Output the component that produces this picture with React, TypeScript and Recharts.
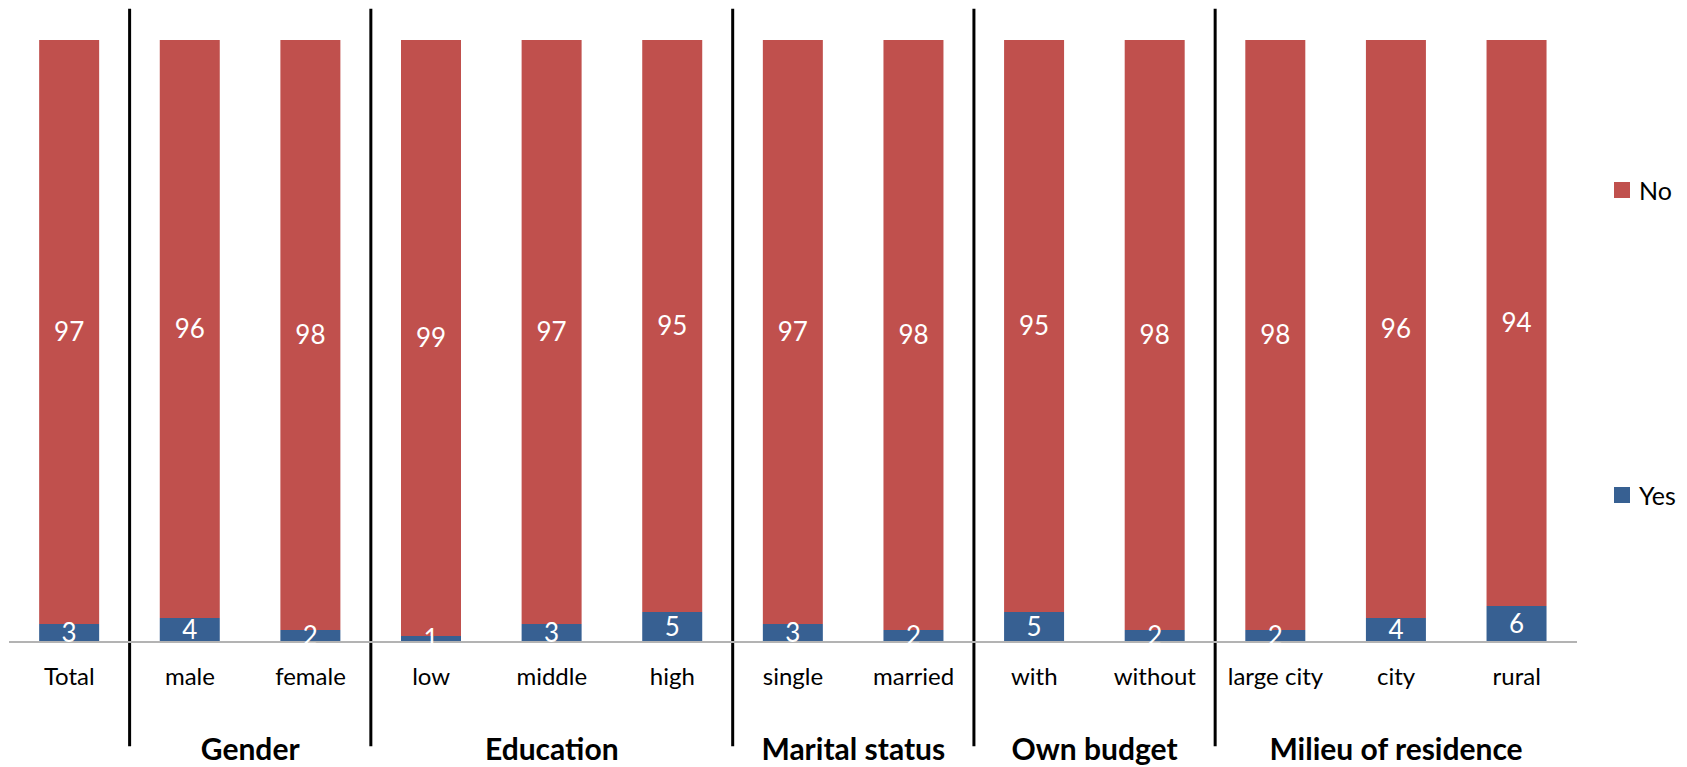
import React from 'react';
import { BarChart, Bar, XAxis, YAxis, LabelList, ReferenceLine, Label } from 'recharts';

const categories = ['Total', 'male', 'female', 'low', 'middle', 'high', 'single', 'married', 'with', 'without', 'large city', 'city', 'rural'];
const yesValues = [3, 4, 2, 1, 3, 5, 3, 2, 5, 2, 2, 4, 6];
const noValues = [97, 96, 98, 99, 97, 95, 97, 98, 95, 98, 98, 96, 94];
const groupNames = ['', 'Gender', 'Education', 'Marital status', 'Own budget', 'Milieu of residence'];
const groupSizes = [1, 2, 3, 2, 2, 3];
const seriesNames = ['Yes', 'No'];
const seriesColors = ['#376092', '#C0504D'];

const data = categories.map((c, i) => ({ category: c, Yes: yesValues[i], No: noValues[i] }));

// group boundaries (first category of each group after the first) and label anchors
const boundaryCats: string[] = [];
const groupAnchors: { name: string; cat: string; position: 'middle' | 'end' }[] = [];
let acc = 0;
groupSizes.forEach((s, i) => {
  if (i > 0) boundaryCats.push(categories[acc]);
  if (groupNames[i]) {
    if (s % 2 === 1) {
      groupAnchors.push({ name: groupNames[i], cat: categories[acc + (s - 1) / 2], position: 'middle' });
    } else {
      groupAnchors.push({ name: groupNames[i], cat: categories[acc + s / 2 - 1], position: 'end' });
    }
  }
  acc += s;
});

const FONT = 'Lato, "Open Sans", sans-serif';
const SEP_BOTTOM = -17.3;
const SEP_TOP = 105.2;
const GROUP_LABEL_Y = -17.8;

export default function App() {
  return (
    <div style={{ position: 'absolute', left: 0, top: 0, width: 1687, height: 767, fontFamily: FONT, background: '#fff' }}>
      <BarChart
        width={1687}
        height={767}
        data={data}
        margin={{ top: 40, right: 110, left: 9, bottom: 0 }}
        barCategoryGap="25%"
      >
        <YAxis hide domain={[0, 100]} type="number" />
        <XAxis
          dataKey="category"
          interval={0}
          tickLine={false}
          axisLine={{ stroke: '#b3b3b3', strokeWidth: 2 }}
          tick={{ fill: '#000', fontSize: 24, fontFamily: FONT }}
          tickMargin={20}
          height={125}
        />
        <Bar dataKey="Yes" stackId="a" fill={seriesColors[0]} isAnimationActive={false}>
          <LabelList dataKey="Yes" position="center" fill="#fff" fontSize={26} fontFamily={FONT} />
        </Bar>
        <Bar dataKey="No" stackId="a" fill={seriesColors[1]} isAnimationActive={false}>
          <LabelList dataKey="No" position="center" fill="#fff" fontSize={26} fontFamily={FONT} />
        </Bar>
        {boundaryCats.map((c) => (
          <ReferenceLine
            key={'sep-' + c}
            segment={[{ x: c, y: SEP_BOTTOM }, { x: c, y: SEP_TOP }]}
            position="start"
            stroke="#000"
            strokeWidth={3}
            ifOverflow="visible"
          />
        ))}
        {groupAnchors.map((g) => (
          <ReferenceLine
            key={'grp-' + g.name}
            segment={[{ x: g.cat, y: GROUP_LABEL_Y - 0.5 }, { x: g.cat, y: GROUP_LABEL_Y + 0.5 }]}
            position={g.position}
            stroke="none"
            ifOverflow="visible"
          >
            <Label
              value={g.name}
              position="center"
              fill="#000"
              fontSize={30}
              fontWeight="bold"
              fontFamily={FONT}
            />
          </ReferenceLine>
        ))}
      </BarChart>
      {[1, 0].map((si, k) => (
        <div
          key={si}
          style={{
            position: 'absolute',
            left: 1614,
            top: k === 0 ? 175 : 480,
            height: 30,
            display: 'flex',
            alignItems: 'center',
            fontSize: 25,
            lineHeight: '30px',
            color: '#000',
            fontFamily: FONT,
            whiteSpace: 'nowrap',
          }}
        >
          <span style={{ display: 'inline-block', width: 16, height: 16, background: seriesColors[si], marginRight: 9 }} />
          <span>{seriesNames[si]}</span>
        </div>
      ))}
    </div>
  );
}
